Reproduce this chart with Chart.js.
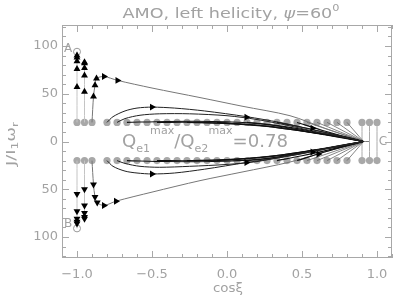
<!DOCTYPE html>
<html>
<head>
<meta charset="utf-8">
<script src="https://cdn.jsdelivr.net/npm/chart.js@4.4.1/dist/chart.umd.min.js"></script>
<style>
  html, body { margin: 0; padding: 0; background: #fff; }
  canvas { display: block; }
</style>
</head>
<body>
<canvas id="chart" width="399" height="297"></canvas>
<script>
// tick labels
const xTicks = [-1, -0.5, 0, 0.5, 1];
const yTicks = [-100, -50, 0, 50, 100];

// grey starting dots (cos xi) on the two rows J = +20 / -20
const dotX = [-1, -0.95, -0.9, -0.8, -0.733, -0.667, -0.6, -0.533, -0.467, -0.4, -0.333,
  -0.267, -0.2, -0.133, -0.067, 0, 0.067, 0.133, 0.2, 0.267, 0.333, 0.4, 0.467,
  0.533, 0.6, 0.667, 0.733, 0.8, 0.9, 0.95, 1];
const dotRowY = [20, -20];

// trajectories, upper half
const upperArcs = [
  [[-0.8, 20], [-0.76, 26], [-0.68, 32], [-0.6, 35], [-0.5, 36], [-0.35, 35], [-0.15, 32], [0.13, 26], [0.35, 20], [0.55, 13], [0.75, 6], [0.91, 0]],
  [[-0.733, 20], [-0.68, 24], [-0.58, 27.5], [-0.45, 29], [-0.25, 29], [0, 27], [0.2, 23], [0.4, 17], [0.6, 10], [0.8, 4], [0.91, 0]]
];
const upperLong = [[-0.9, 20], [-0.89, 47], [-0.88, 59], [-0.87, 66], [-0.82, 68], [-0.73, 64], [-0.5, 56], [-0.18, 46], [0.1, 37], [0.42, 27], [0.65, 14], [0.91, 0]];
const upperBundle = [
  [[-0.667, 20], [-0.4, 21], [-0.1, 21], [0.2, 19], [0.45, 14], [0.65, 8], [0.8, 4], [0.91, 0]],
  [[-0.467, 20], [-0.2, 20], [0.1, 18], [0.35, 15], [0.55, 10], [0.75, 5], [0.91, 0]],
  [[-0.267, 20], [0, 19], [0.25, 16], [0.5, 11], [0.7, 6], [0.91, 0]],
  [[-0.067, 20], [0.2, 17], [0.45, 12], [0.65, 7], [0.91, 0]],
  [[0.133, 20], [0.35, 16], [0.55, 10], [0.75, 5], [0.91, 0]],
  [[0.333, 20], [0.5, 15], [0.7, 8], [0.91, 0]],
  [[0.467, 20], [0.65, 11], [0.91, 0]]
];
const upperFan = [
  [[0.533, 20], [0.91, 0]], [[0.6, 20], [0.91, 0]], [[0.667, 20], [0.91, 0]],
  [[0.733, 20], [0.91, 0]], [[0.8, 20], [0.91, 0]]
];

// trajectories, lower half
const lowerArcs = [
  [[-0.8, -20], [-0.76, -26], [-0.68, -31], [-0.6, -33], [-0.5, -34], [-0.35, -33], [-0.15, -29], [0.13, -22], [0.35, -17], [0.55, -11], [0.75, -5], [0.91, 0]],
  [[-0.733, -20], [-0.68, -23], [-0.58, -26], [-0.45, -27], [-0.25, -26], [0, -24], [0.2, -21], [0.4, -15], [0.6, -9], [0.8, -3], [0.91, 0]]
];
const lowerLong = [[-0.9, -20], [-0.89, -45], [-0.88, -58], [-0.865, -64], [-0.82, -67], [-0.74, -62.5], [-0.5, -53], [-0.18, -41], [0.1, -32], [0.42, -21.5], [0.65, -11], [0.91, 0]];
const lowerBundle = [
  [[-0.667, -20], [-0.4, -21], [-0.1, -21], [0.2, -19], [0.45, -14], [0.65, -8], [0.8, -4], [0.91, 0]],
  [[-0.467, -20], [-0.2, -20], [0.1, -18], [0.35, -15], [0.55, -10], [0.75, -5], [0.91, 0]],
  [[-0.267, -20], [0, -19], [0.25, -16], [0.5, -11], [0.7, -6], [0.91, 0]],
  [[-0.067, -20], [0.2, -17], [0.45, -12], [0.65, -7], [0.91, 0]],
  [[0.133, -20], [0.35, -16], [0.55, -10], [0.75, -5], [0.91, 0]],
  [[0.333, -20], [0.5, -15], [0.7, -8], [0.91, 0]],
  [[0.467, -20], [0.65, -11], [0.91, 0]]
];
const lowerFan = [
  [[0.533, -20], [0.91, 0]], [[0.6, -20], [0.91, 0]], [[0.667, -20], [0.91, 0]],
  [[0.733, -20], [0.91, 0]], [[0.8, -20], [0.91, 0]]
];

// straight guide lines [x, yFrom, yTo]
const leftVerticals = [[-1, 20, 94], [-0.95, 20, 83], [-1, -20, -91], [-0.95, -20, -81]];
const rightVerticals = [[0.9, -20, 20], [0.95, -20, 20], [1, -20, 20]];
const cStub = [[0.9, 0], [0.95, 0]];

// markers
const triUp = [[-1, 57], [-1, 76], [-1, 84], [-1, 88], [-1, 90],
  [-0.95, 52], [-0.95, 69], [-0.95, 77], [-0.95, 82], [-0.95, 83],
  [-0.89, 47], [-0.88, 59], [-0.87, 66]];
const triDown = [[-1, -55], [-1, -73], [-1, -81], [-1, -84], [-1, -86],
  [-0.95, -50], [-0.95, -67], [-0.95, -75], [-0.95, -79], [-0.95, -81],
  [-0.89, -45], [-0.88, -58], [-0.865, -64]];
const triRight = [[-0.82, 68], [-0.73, 64], [-0.5, 36], [0.13, 25.5], [0.57, 14],
  [-0.82, -67], [-0.74, -62.5], [-0.5, -34], [0.13, -22], [0.57, -11], [0.61, -13]];
const endCircles = [[-1, 94], [-1, -91]];

// point labels: [text, x, y]
const pointLabels = [['A', -1.06, 96.5], ['B', -1.06, -86], ['C', 1.04, 0]];

const GREY_TXT = '#a2a2a2';
Chart.defaults.font.family = '"DejaVu Sans", sans-serif';

const toXY = arr => arr.map(p => ({ x: p[0], y: p[1] }));

function lineSet(path, color, width) {
  return { data: toXY(path), showLine: true, borderColor: color, borderWidth: width,
    pointRadius: 0, tension: 0.3, fill: false };
}

const datasets = [];
// markers on top
datasets.push({ data: toXY(triUp), pointStyle: 'triangle', rotation: 0, pointRadius: 4,
  backgroundColor: '#000', borderColor: '#000', borderWidth: 0, showLine: false });
datasets.push({ data: toXY(triDown), pointStyle: 'triangle', rotation: 180, pointRadius: 4,
  backgroundColor: '#000', borderColor: '#000', borderWidth: 0, showLine: false });
datasets.push({ data: toXY(triRight), pointStyle: 'triangle', rotation: 90, pointRadius: 4,
  backgroundColor: '#000', borderColor: '#000', borderWidth: 0, showLine: false });
datasets.push({ data: toXY(endCircles), pointStyle: 'circle', pointRadius: 3.5,
  backgroundColor: 'rgba(0,0,0,0)', borderColor: '#999', borderWidth: 1, showLine: false });

upperArcs.concat(lowerArcs).forEach(p => datasets.push(lineSet(p, '#222', 1)));
upperBundle.concat(lowerBundle).forEach(p => datasets.push(lineSet(p, '#111', 1.1)));
[upperLong, lowerLong].forEach(p => datasets.push(lineSet(p, '#777', 1)));
upperFan.concat(lowerFan).forEach(p => datasets.push(lineSet(p, '#666', 0.8)));
leftVerticals.forEach(v => datasets.push(lineSet([[v[0], v[1]], [v[0], v[2]]], '#c4c4c4', 1)));
rightVerticals.forEach(v => datasets.push(lineSet([[v[0], v[1]], [v[0], v[2]]], '#aaa', 1)));
datasets.push(lineSet(cStub, '#777', 1));

// grey dots at the bottom
dotRowY.forEach(yv => {
  datasets.push({ data: dotX.map(x => ({ x: x, y: yv })), showLine: false, pointStyle: 'circle',
    pointRadius: 3.6, backgroundColor: '#a8a8a8', borderWidth: 0 });
});

// draws a run of text pieces (with sub/superscripts), stretched to a given width
function richText(ctx, parts, x, y, targetW, align) {
  ctx.textBaseline = 'alphabetic';
  ctx.textAlign = 'left';
  let w = 0;
  parts.forEach(p => {
    ctx.font = (p.it ? 'italic ' : '') + p.s + 'px "DejaVu Sans"';
    p.w = ctx.measureText(p.t).width;
    w += p.w;
  });
  const k = targetW ? targetW / w : 1;
  let cx = align === 'center' ? x - w * k / 2 : x;
  parts.forEach(p => {
    ctx.font = (p.it ? 'italic ' : '') + p.s + 'px "DejaVu Sans"';
    ctx.save();
    ctx.translate(cx, y + (p.dy || 0));
    ctx.scale(k, 1);
    ctx.fillText(p.t, 0, 0);
    ctx.restore();
    cx += p.w * k;
  });
}

const framePlugin = {
  id: 'frame',
  beforeDatasetsDraw(chart) {
    const { ctx, chartArea: a, scales: { x, y } } = chart;
    ctx.save();
    ctx.strokeStyle = '#a8a8a8';
    ctx.lineWidth = 1;
    ctx.strokeRect(a.left + 0.5, a.top + 0.5, a.right - a.left - 1, a.bottom - a.top - 1);
    ctx.beginPath();
    for (let i = -11; i <= 11; i++) {
      const px = Math.round(x.getPixelForValue(i / 10)) + 0.5;
      const len = i % 5 === 0 ? 7 : 4;
      ctx.moveTo(px, a.bottom); ctx.lineTo(px, a.bottom - len);
      ctx.moveTo(px, a.top); ctx.lineTo(px, a.top + len);
    }
    for (let j = -12; j <= 12; j++) {
      const py = Math.round(y.getPixelForValue(j * 10)) + 0.5;
      const len = j % 5 === 0 ? 7 : 4;
      ctx.moveTo(a.left, py); ctx.lineTo(a.left + len, py);
      ctx.moveTo(a.right, py); ctx.lineTo(a.right - len, py);
    }
    ctx.stroke();
    ctx.restore();
  },
  afterDraw(chart) {
    const { ctx, scales: { x, y } } = chart;
    ctx.save();
    ctx.fillStyle = GREY_TXT;
    // title
    richText(ctx, [{ t: 'AMO, left helicity, ', s: 14 }, { t: 'ψ', s: 14, it: true },
      { t: '=60', s: 14 }, { t: '0', s: 9, dy: -7 }], 231, 18, 217, 'center');
    // ratio annotation
    richText(ctx, [{ t: 'Q', s: 18 }, { t: 'e1', s: 11, dy: 5 }, { t: 'max', s: 11, dy: -13 },
      { t: '/Q', s: 18 }, { t: 'e2', s: 11, dy: 5 }, { t: 'max', s: 11, dy: -13 },
      { t: '=0.78', s: 18 }], 122, 147, 166, 'left');
    // x title
    richText(ctx, [{ t: 'cos', s: 13 }, { t: 'ξ', s: 13 }], 228, 292, 30, 'center');
    // y title
    ctx.save();
    ctx.translate(15, 144);
    ctx.rotate(-Math.PI / 2);
    richText(ctx, [{ t: 'J/I', s: 13 }, { t: '1', s: 9, dy: 3 }, { t: 'ω', s: 13 },
      { t: 'r', s: 9, dy: 3 }], 0, 0, 44, 'center');
    ctx.restore();
    // point labels
    ctx.font = '12px "DejaVu Sans"';
    ctx.textAlign = 'center';
    ctx.textBaseline = 'middle';
    pointLabels.forEach(l => ctx.fillText(l[0], x.getPixelForValue(l[1]), y.getPixelForValue(l[2])));
    ctx.restore();
  }
};

new Chart(document.getElementById('chart'), {
  type: 'scatter',
  data: { datasets: datasets },
  options: {
    responsive: false,
    animation: false,
    layout: { padding: { top: 25, right: 7, left: 0, bottom: 0 } },
    plugins: { legend: { display: false }, tooltip: { enabled: false } },
    scales: {
      x: {
        type: 'linear', min: -1.1, max: 1.1,
        grid: { display: false, drawTicks: false },
        border: { display: false },
        ticks: {
          color: GREY_TXT, font: { size: 13 }, padding: 9, maxRotation: 0,
          callback: v => v.toFixed(1).replace('-', '\u2212')
        },
        afterBuildTicks: s => { s.ticks = xTicks.map(v => ({ value: v })); },
        afterFit: s => { s.height = 39; }
      },
      y: {
        type: 'linear', min: -122, max: 122,
        grid: { display: false, drawTicks: false },
        border: { display: false },
        ticks: { color: GREY_TXT, font: { size: 13 }, padding: 4, callback: v => String(Math.abs(v)) },
        afterBuildTicks: s => { s.ticks = yTicks.map(v => ({ value: v })); },
        afterFit: s => { s.width = 62; }
      }
    }
  },
  plugins: [framePlugin]
});
</script>
</body>
</html>
